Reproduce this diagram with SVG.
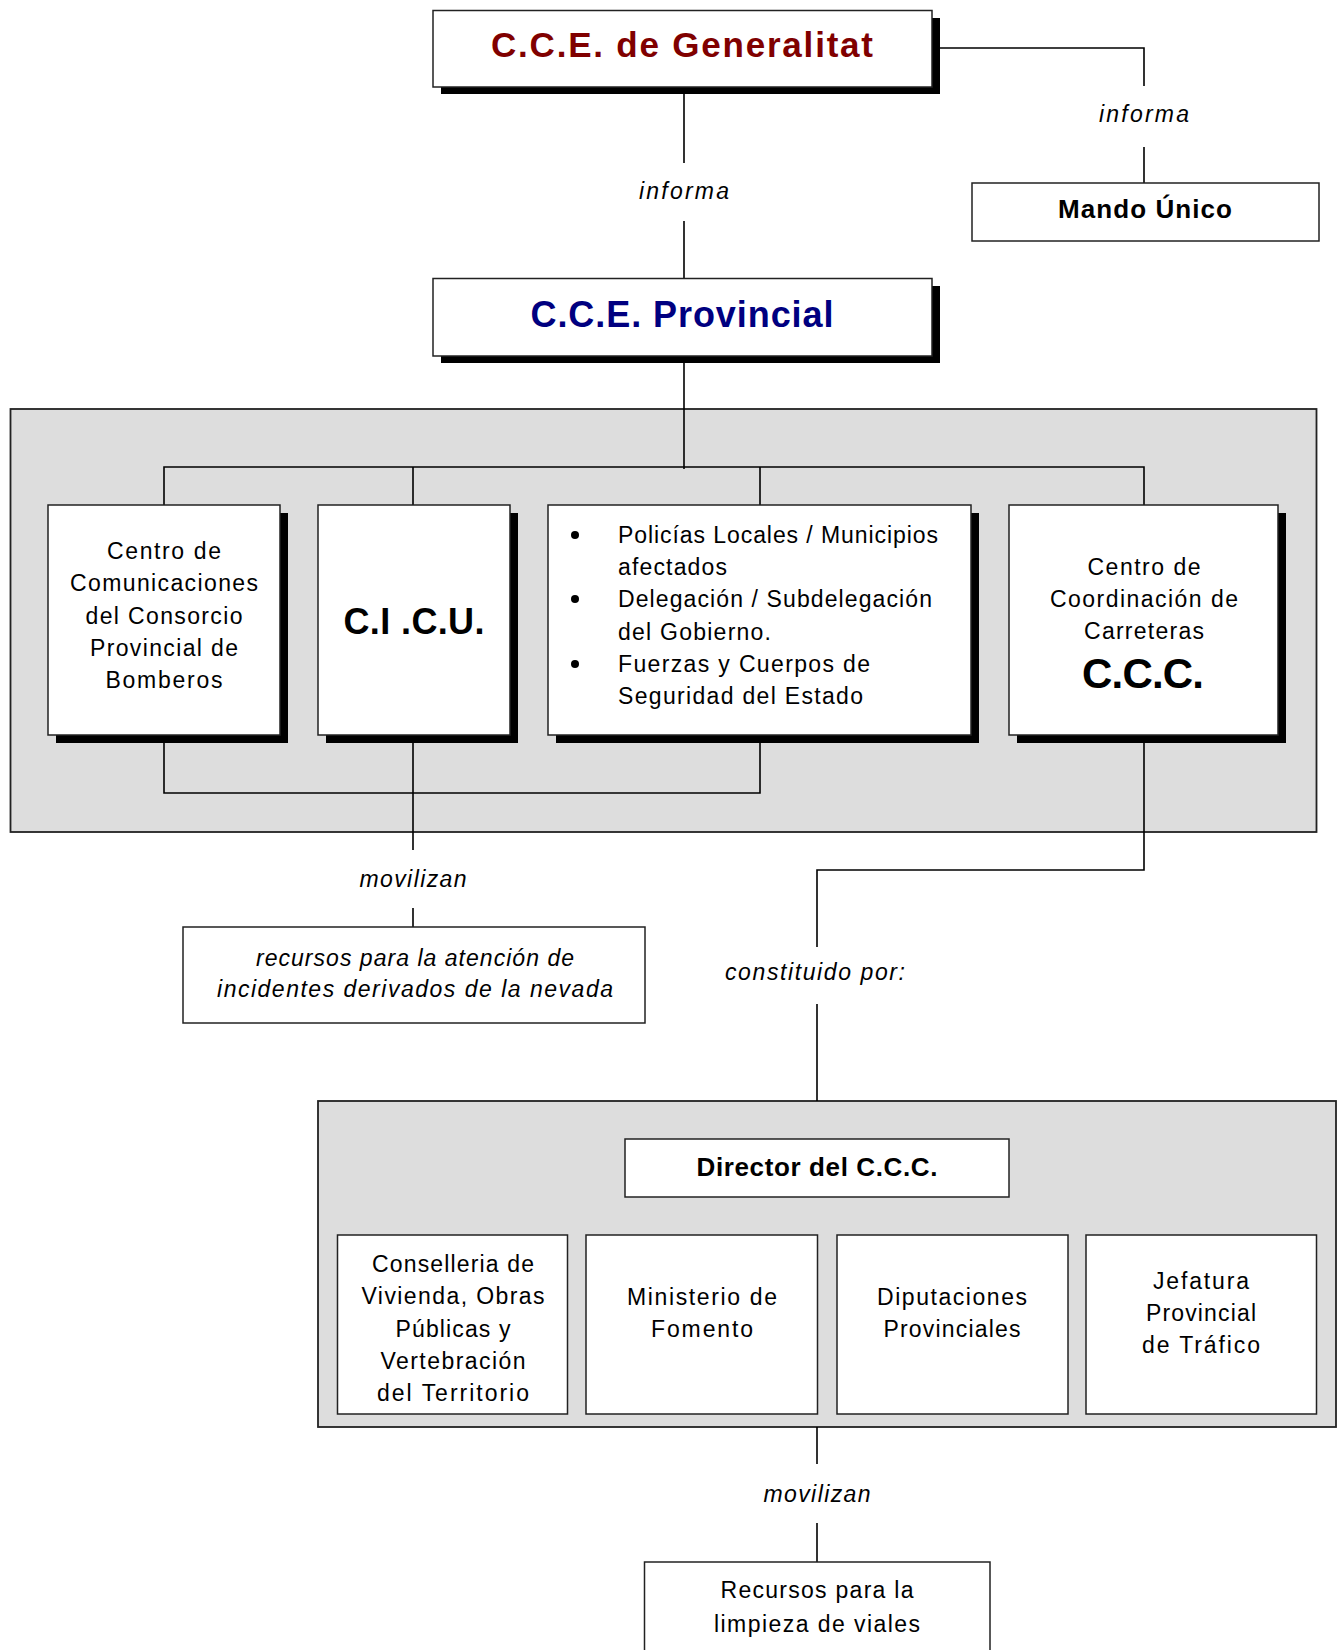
<svg xmlns="http://www.w3.org/2000/svg" width="1337" height="1650" viewBox="0 0 1337 1650">
<style>
  text { font-family: "Liberation Sans", Arial, sans-serif; fill: #000; }
  .t { font-size: 23px; text-anchor: middle; }
  .tl { font-size: 23px; }
  .it { font-size: 23px; font-style: italic; text-anchor: middle; }
  .b { font-weight: bold; text-anchor: middle; }
  .box { fill: #fff; stroke: #222; stroke-width: 1.5; }
  .sh { fill: #000; }
  .panel { fill: #dddddd; stroke: #222; stroke-width: 1.8; }
  .con { fill: none; stroke: #000; stroke-width: 1.6; }
</style>

<g id="panel-provincial"><rect class="panel" x="10.5" y="409" width="1306" height="423"/></g>
<g id="panel-ccc"><rect class="panel" x="318" y="1101" width="1018" height="326"/></g>

<g id="connectors">
  <path class="con" d="M940,48 H1144 V86 M1144,147 V183"/>
  <path class="con" d="M684,94 V163 M684,221 V279"/>
  <path class="con" d="M684,363 V469"/>
  <path class="con" d="M164,505 V467 H1144 V505 M413,467 V505 M760,467 V505"/>
  <path class="con" d="M164,743 V793 H760 V743"/>
  <path class="con" d="M413,743 V850 M413,908 V928"/>
  <path class="con" d="M1144,743 V870 H817 V947 M817,1004 V1101"/>
  <path class="con" d="M817,1427 V1464 M817,1523 V1562"/>
</g>

<g id="label-informa-1"><text class="it" x="1144" y="122" textLength="90">informa</text></g>
<g id="label-informa-2"><text class="it" x="684" y="199" textLength="90">informa</text></g>
<g id="label-movilizan-1"><text class="it" x="413" y="887" textLength="107">movilizan</text></g>
<g id="label-constituido"><text class="it" x="815" y="980" textLength="180">constituido por:</text></g>
<g id="label-movilizan-2"><text class="it" x="817" y="1502" textLength="107">movilizan</text></g>

<g id="node-generalitat">
  <rect class="sh" x="441" y="18" width="499" height="76"/>
  <rect class="box" x="433" y="10.5" width="499" height="76.5"/>
  <text class="b" x="682" y="57" style="font-size:35px;fill:#800000" textLength="382">C.C.E. de Generalitat</text>
</g>

<g id="node-mando">
  <rect class="box" x="972" y="183" width="347" height="58"/>
  <text class="b" x="1145" y="218" style="font-size:26px" textLength="174">Mando Único</text>
</g>

<g id="node-provincial">
  <rect class="sh" x="441" y="286" width="499" height="77"/>
  <rect class="box" x="433" y="278.5" width="499" height="77.5"/>
  <text class="b" x="682" y="327" style="font-size:36px;fill:#000080" textLength="303">C.C.E. Provincial</text>
</g>

<g id="node-bomberos">
  <rect class="sh" x="56" y="513" width="232" height="230"/>
  <rect class="box" x="48" y="505" width="232" height="230"/>
  <text class="t" x="164" y="559" textLength="114">Centro de</text>
  <text class="t" x="164" y="591" textLength="188">Comunicaciones</text>
  <text class="t" x="164" y="624" textLength="157">del Consorcio</text>
  <text class="t" x="164" y="656" textLength="148">Provincial de</text>
  <text class="t" x="164" y="688" textLength="117">Bomberos</text>
</g>

<g id="node-cicu">
  <rect class="sh" x="326" y="513" width="192" height="230"/>
  <rect class="box" x="318" y="505" width="192" height="230"/>
  <text class="b" x="414" y="634" style="font-size:36px" textLength="141">C.I .C.U.</text>
</g>

<g id="node-policias">
  <rect class="sh" x="556" y="513" width="423" height="230"/>
  <rect class="box" x="548" y="505" width="423" height="230"/>
  <circle cx="575" cy="535" r="4"/>
  <circle cx="575" cy="599" r="4"/>
  <circle cx="575" cy="664" r="4"/>
  <text class="tl" x="618" y="543" textLength="320">Policías Locales / Municipios</text>
  <text class="tl" x="618" y="575" textLength="109">afectados</text>
  <text class="tl" x="618" y="607" textLength="314">Delegación / Subdelegación</text>
  <text class="tl" x="618" y="640" textLength="153">del Gobierno.</text>
  <text class="tl" x="618" y="672" textLength="252">Fuerzas y Cuerpos de</text>
  <text class="tl" x="618" y="704" textLength="245">Seguridad del Estado</text>
</g>

<g id="node-ccc">
  <rect class="sh" x="1017" y="513" width="269" height="230"/>
  <rect class="box" x="1009" y="505" width="269" height="230"/>
  <text class="t" x="1144" y="575" textLength="113">Centro de</text>
  <text class="t" x="1144" y="607" textLength="188">Coordinación de</text>
  <text class="t" x="1144" y="639" textLength="120">Carreteras</text>
  <text class="b" x="1143" y="688" style="font-size:42px" textLength="122">C.C.C.</text>
</g>

<g id="node-recursos-incidentes">
  <rect class="box" x="183" y="927" width="462" height="96"/>
  <text class="it" x="415" y="966" textLength="318">recursos para la atención de</text>
  <text class="it" x="415" y="997" textLength="396">incidentes derivados de la nevada</text>
</g>

<g id="node-director">
  <rect class="box" x="625" y="1139" width="384" height="58"/>
  <text class="b" x="817" y="1176" style="font-size:26px" textLength="241">Director del C.C.C.</text>
</g>

<g id="node-conselleria">
  <rect class="box" x="337.5" y="1235" width="230" height="179"/>
  <text class="t" x="453" y="1272" textLength="162">Conselleria de</text>
  <text class="t" x="453" y="1304" textLength="183">Vivienda, Obras</text>
  <text class="t" x="453" y="1337" textLength="115">Públicas y</text>
  <text class="t" x="453" y="1369" textLength="145">Vertebración</text>
  <text class="t" x="453" y="1401" textLength="152">del Territorio</text>
</g>

<g id="node-ministerio">
  <rect class="box" x="586" y="1235" width="231.5" height="179"/>
  <text class="t" x="702" y="1305" textLength="150">Ministerio de</text>
  <text class="t" x="702" y="1337" textLength="102">Fomento</text>
</g>

<g id="node-diputaciones">
  <rect class="box" x="837" y="1235" width="231" height="179"/>
  <text class="t" x="952" y="1305" textLength="150">Diputaciones</text>
  <text class="t" x="952" y="1337" textLength="137">Provinciales</text>
</g>

<g id="node-jefatura">
  <rect class="box" x="1086" y="1235" width="230.5" height="179"/>
  <text class="t" x="1201" y="1289" textLength="96">Jefatura</text>
  <text class="t" x="1201" y="1321" textLength="110">Provincial</text>
  <text class="t" x="1201" y="1353" textLength="118">de Tráfico</text>
</g>

<g id="node-recursos-viales">
  <rect class="box" x="644.5" y="1562" width="345.5" height="100"/>
  <text class="t" x="817" y="1598" textLength="193">Recursos para la</text>
  <text class="t" x="817" y="1632" textLength="206">limpieza de viales</text>
</g>
</svg>
